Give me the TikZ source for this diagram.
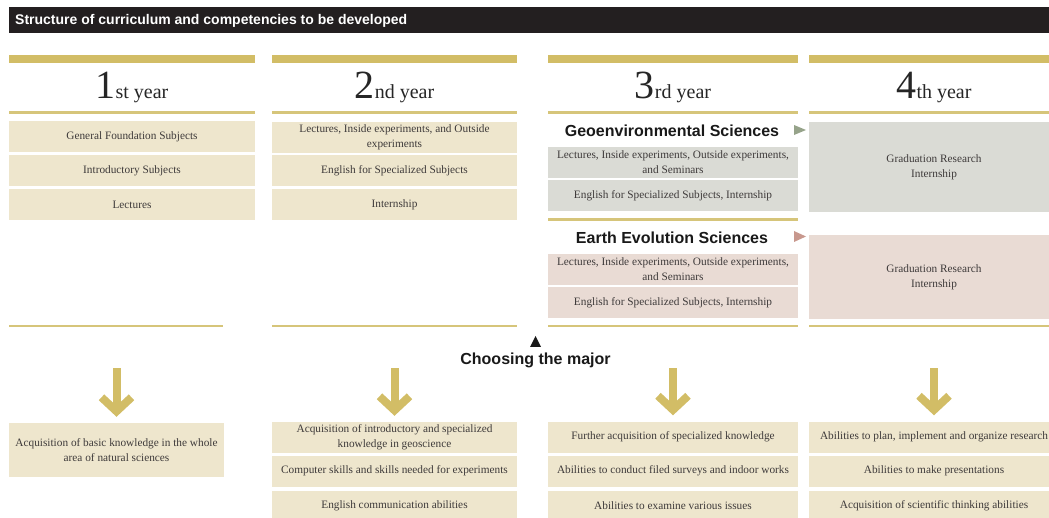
\documentclass[tikz,border=0pt]{standalone}
\usepackage{fontspec}
\setmainfont{Liberation Serif}
\newfontfamily\headfont{Liberation Sans}
\usetikzlibrary{arrows.meta}
\definecolor{titlebg}{RGB}{35,31,32}
\definecolor{gold}{RGB}{210,189,102}
\definecolor{goldline}{RGB}{214,197,122}
\definecolor{beige}{RGB}{238,230,205}
\definecolor{geofill}{RGB}{218,219,213}
\definecolor{earthfill}{RGB}{233,219,212}
\definecolor{geotri}{RGB}{150,163,138}
\definecolor{earthtri}{RGB}{200,152,142}
\definecolor{textgray}{RGB}{62,58,58}

\begin{document}
\begin{tikzpicture}[x=1pt,y=-1pt,
  box/.style={fill=beige, text=textgray, font=\fontsize{11.3}{15}\selectfont, align=center, inner sep=0pt, minimum height=31pt},
  yearlabel/.style={anchor=base, text=black!85, inner sep=0pt},
  major/.style={text=black!90, font=\headfont\bfseries\fontsize{16}{16}\selectfont, inner sep=0pt},
  goldarrow/.style={draw=gold, line width=8pt, -{Straight Barb[length=14pt,width=30pt]}, shorten >=6pt}]
\useasboundingbox (0,0) rectangle (1049,518);

\fill[titlebg] (9,7) rectangle (1060,33);
\node[anchor=west, text=white, inner sep=0pt, font=\headfont\bfseries\fontsize{14}{14}\selectfont] (title) at (15,20.5) {Structure of curriculum and competencies to be developed};

\fill[gold] (9,55) rectangle (255,63);
\fill[gold] (272,55) rectangle (517,63);
\fill[gold] (548,55) rectangle (798,63);
\fill[gold] (809,55) rectangle (1060,63);

\node[yearlabel] (y1) at (132,99) {\fontsize{40}{40}\selectfont 1\fontsize{20}{20}\selectfont st year};
\node[yearlabel] (y2) at (394.5,99) {\fontsize{40}{40}\selectfont 2\fontsize{20}{20}\selectfont nd year};
\node[yearlabel] (y3) at (673,99) {\fontsize{40}{40}\selectfont 3\fontsize{20}{20}\selectfont rd year};
\node[yearlabel] (y4) at (934,99) {\fontsize{40}{40}\selectfont 4\fontsize{20}{20}\selectfont th year};

\fill[goldline] (9,111.5) rectangle (255,114);
\fill[goldline] (272,111.5) rectangle (517,114);
\fill[goldline] (548,111.5) rectangle (798,114);
\fill[goldline] (809,111.5) rectangle (1060,114);

\node[box, minimum width=246pt] (s11) at (132,137) {General Foundation Subjects};
\node[box, minimum width=246pt] (s12) at (132,171) {Introductory Subjects};
\node[box, minimum width=246pt] (s13) at (132,205) {Lectures};

\node[box, minimum width=245pt] (s21) at (394.5,137.5) {Lectures, Inside experiments, and Outside\\experiments};
\node[box, minimum width=245pt] (s22) at (394.5,171) {English for Specialized Subjects};
\node[box, minimum width=245pt] (s23) at (394.5,205) {Internship};

\node[major] (geo) at (672,131) {Geoenvironmental Sciences};
\fill[geotri] (794,125) -- (806,130) -- (794,135) -- cycle;
\node[box, fill=geofill, minimum width=250pt] (g31) at (673,162.5) {Lectures, Inside experiments, Outside experiments,\\and Seminars};
\node[box, fill=geofill, minimum width=250pt] (g32) at (673,196) {English for Specialized Subjects, Internship};
\node[box, fill=geofill, minimum width=250pt, minimum height=90pt] (g41) at (934,167) {Graduation Research\\Internship};
\fill[goldline] (548,218.5) rectangle (798,221);

\node[major] (earth) at (672,238) {Earth Evolution Sciences};
\fill[earthtri] (794,231) -- (806,236.5) -- (794,242) -- cycle;
\node[box, fill=earthfill, minimum width=250pt] (e31) at (673,269.5) {Lectures, Inside experiments, Outside experiments,\\and Seminars};
\node[box, fill=earthfill, minimum width=250pt] (e32) at (673,303) {English for Specialized Subjects, Internship};
\node[box, fill=earthfill, minimum width=250pt, minimum height=84pt] (e41) at (934,277) {Graduation Research\\Internship};

\fill[goldline] (9,325) rectangle (223,327.5);
\fill[goldline] (272,325) rectangle (517,327.5);
\fill[goldline] (548,325) rectangle (798,327.5);
\fill[goldline] (809,325) rectangle (1060,327.5);

\fill[black!90] (530,347) -- (535.5,336) -- (541,347) -- cycle;
\node[major, anchor=base] (choose) at (535.5,364) {Choosing the major};

\node[box, minimum width=215pt, minimum height=54pt] (r11) at (116.5,450) {Acquisition of basic knowledge in the whole\\area of natural sciences};

\node[box, minimum width=245pt] (r21) at (394.5,437.5) {Acquisition of introductory and specialized\\knowledge in geoscience};
\node[box, minimum width=245pt] (r22) at (394.5,471) {Computer skills and skills needed for experiments};
\node[box, minimum width=245pt] (r23) at (394.5,506) {English communication abilities};

\node[box, minimum width=250pt] (r31) at (673,437) {Further acquisition of specialized knowledge};
\node[box, minimum width=250pt] (r32) at (673,471) {Abilities to conduct filed surveys and indoor works};
\node[box, minimum width=250pt] (r33) at (673,506) {Abilities to examine various issues};

\node[box, minimum width=250pt] (r41) at (934,437) {Abilities to plan, implement and organize research};
\node[box, minimum width=250pt] (r42) at (934,471) {Abilities to make presentations};
\node[box, minimum width=250pt] (r43) at (934,506) {Acquisition of scientific thinking abilities};

\coordinate (a1) at (116.5,368);
\coordinate (a2) at (394.5,368);
\coordinate (a3) at (673,368);
\coordinate (a4) at (934,368);
\draw[goldarrow] (a1) -- (r11.north);
\draw[goldarrow] (a2) -- (r21.north);
\draw[goldarrow] (a3) -- (r31.north);
\draw[goldarrow] (a4) -- (r41.north);
\end{tikzpicture}
\end{document}
